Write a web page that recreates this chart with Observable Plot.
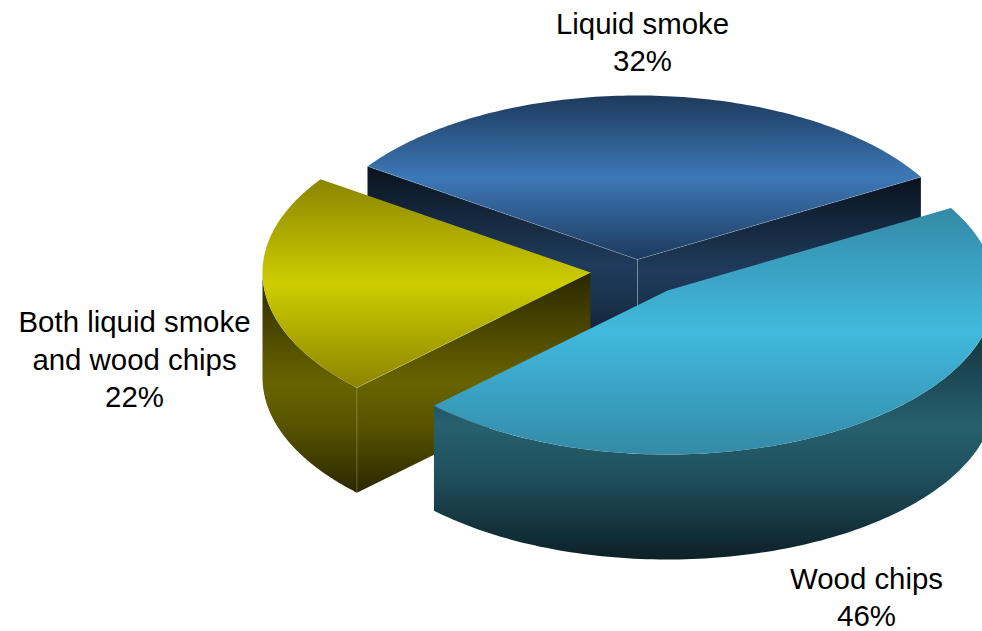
<!DOCTYPE html>
<html>
<head>
<meta charset="utf-8">
<script src="https://cdn.jsdelivr.net/npm/d3@7"></script>
<script src="https://cdn.jsdelivr.net/npm/@observablehq/plot@0.6"></script>
<style>
  html, body { margin: 0; padding: 0; background: #fff; }
  svg { display: block; }
</style>
</head>
<body>
<div id="chart"></div>
<script>
// Share of respondents by smoke source
const categories = ["Liquid smoke", "Wood chips", "Both liquid smoke\nand wood chips"];
const shares = [32, 46, 22];

// Face colours per slice: shaded edge of the gradient and its bright middle
const topEdge = ["#1d3a5c", "#348aa6", "#8a8500"];
const topMiddle = ["#3d78b7", "#41b9df", "#cfcd00"];
const wallEdge = ["#0a131e", "#0c2027", "#2a2700"];
const wallMiddle = ["#1f3c5d", "#26606f", "#696400"];

// Tilted-disc layout, in the chart's x/y units
const width = 982, height = 631;
const centre = [636, 272];
const radiusX = 328, radiusY = 164, depth = 105;
const firstAngle = -55.4;
const explode = [[1, -13], [31, 18], [-46, 0]];
const labelX = [642, 866, 134];
const labelY = [40, 595, 357];

const rad = (a) => (a * Math.PI) / 180;
const slices = d3.pie().sort(null).startAngle(rad(firstAngle)).endAngle(rad(firstAngle + 360))(shares);

const sliceCentre = (i) => [centre[0] + explode[i][0], centre[1] + explode[i][1]];

// Point on slice i's rim at a clockwise-from-top angle (radians)
const rim = (i, a) => {
  const [cx, cy] = sliceCentre(i);
  return {x: cx + radiusX * Math.sin(a), y: cy - radiusY * Math.cos(a)};
};
const arcPoints = (i, a0, a1) =>
  d3.range(0, 121).map((k) => rim(i, a0 + ((a1 - a0) * k) / 120));
const apex = (i) => {
  const [x, y] = sliceCentre(i);
  return {x, y};
};
const lower = (p) => ({x: p.x, y: p.y + depth});

// A flat wall between two top-face points, extruded downward
const wallFace = (p, q) => [p, q, lower(q), lower(p)];
// A curved outer wall over the front half of the rim
const curvedWall = (i, a0, a1) => {
  const arc = arcPoints(i, a0, a1);
  return [...arc, ...arc.map(lower).reverse()];
};

const angles = slices.map((s) => [s.startAngle, s.endAngle]);
const [liquid, wood, both] = [0, 1, 2];

const topFace = (i) => [apex(i), ...arcPoints(i, angles[i][0], angles[i][1])];
const face = (points, id) =>
  Plot.line(points, {x: "x", y: "y", fill: `url(#${id})`, stroke: "none", curve: "linear-closed"});
const edge = (p, q) =>
  Plot.line([p, q], {x: "x", y: "y", stroke: "#fff", strokeOpacity: 0.28, strokeWidth: 0.8});

// Top faces peak in the middle; walls hold their colour longer below the middle
const gradient = (defs, id, stops) => {
  const g = defs.append("linearGradient").attr("id", id)
    .attr("x1", 0).attr("y1", 0).attr("x2", 0).attr("y2", 1);
  stops.forEach(([o, c]) => g.append("stop").attr("offset", o).attr("stop-color", c));
};

const gradients = () => {
  const defs = d3.create("svg:defs");
  shares.forEach((_, i) => {
    gradient(defs, `top-${i}`, [[0, topEdge[i]], [0.5, topMiddle[i]], [1, topEdge[i]]]);
    gradient(defs, `wall-${i}`, [
      [0, wallEdge[i]],
      [0.5, wallMiddle[i]],
      [0.7, d3.interpolateRgb(wallEdge[i], wallMiddle[i])(0.72)],
      [1, wallEdge[i]]
    ]);
  });
  return defs.node();
};

const liquidLeft = rim(liquid, angles[liquid][0]);
const liquidRight = rim(liquid, angles[liquid][1]);
const bothFront = rim(both, angles[both][0]);

const chart = Plot.plot({
  width, height,
  margin: 0,
  style: {background: "#fff", overflow: "hidden"},
  x: {domain: [0, width], range: [0, width], axis: null},
  y: {domain: [0, height], range: [0, height], axis: null},
  marks: [
    gradients,
    // Back slice
    face(wallFace(liquidLeft, apex(liquid)), `wall-${liquid}`),
    face(wallFace(apex(liquid), liquidRight), `wall-${liquid}`),
    edge(apex(liquid), lower(apex(liquid))),
    edge(liquidRight, lower(liquidRight)),
    face(topFace(liquid), `top-${liquid}`),
    edge(liquidLeft, apex(liquid)),
    edge(apex(liquid), liquidRight),
    // Left slice
    face(curvedWall(both, angles[both][0], Math.PI * 1.5), `wall-${both}`),
    face(wallFace(bothFront, apex(both)), `wall-${both}`),
    edge(bothFront, lower(bothFront)),
    face(topFace(both), `top-${both}`),
    edge(bothFront, apex(both)),
    // Front slice
    face(curvedWall(wood, Math.PI / 2, angles[wood][1]), `wall-${wood}`),
    face(topFace(wood), `top-${wood}`),
    // Labels
    Plot.text(categories.map((c, i) => `${c}\n${shares[i]}%`), {
      x: labelX,
      y: labelY,
      text: (d) => d,
      fontFamily: "Liberation Sans",
      fontSize: 29.4,
      lineHeight: 1.28,
      fill: "#000"
    })
  ]
});
document.getElementById("chart").append(chart);
</script>
</body>
</html>
